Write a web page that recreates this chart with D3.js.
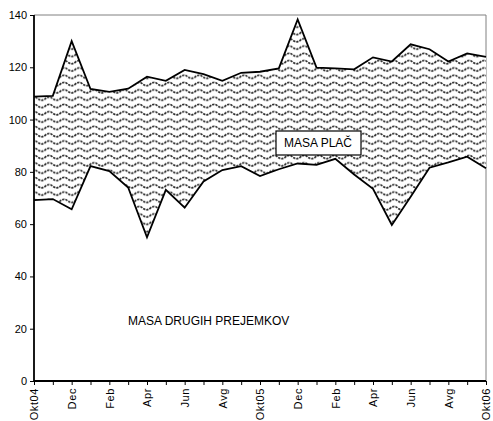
<!DOCTYPE html>
<html>
<head>
<meta charset="utf-8">
<script src="https://cdn.jsdelivr.net/npm/d3@7"></script>
<style>
  body { margin: 0; background: #fff; }
  text { font-family: "Liberation Sans", Arial, sans-serif; }
</style>
</head>
<body>
<div id="chart"></div>
<script>
// months Okt04 .. Okt06
var months = ["Okt04", "Nov04", "Dec04", "Jan05", "Feb05", "Mar05", "Apr05", "Maj05", "Jun05",
    "Jul05", "Avg05", "Sep05", "Okt05", "Nov05", "Dec05", "Jan06", "Feb06", "Mar06", "Apr06",
    "Maj06", "Jun06", "Jul06", "Avg06", "Sep06", "Okt06"];
var tickLabels = ["Okt04", "", "Dec", "", "Feb", "", "Apr", "", "Jun", "", "Avg", "", "Okt05",
    "", "Dec", "", "Feb", "", "Apr", "", "Jun", "", "Avg", "", "Okt06"];

// masa drugih prejemkov (lower line)
var drugi = [69.2, 69.6, 65.7, 82.2, 80.3, 74, 55, 73.1, 66.3, 76.3, 80.7, 82.2, 78.4,
    81, 83.2, 82.7, 85, 79, 73.5, 59.7, 70.5, 81.6, 83.6, 85.8, 81.4];
// skupaj z maso plač (upper line)
var skupaj = [108.8, 109.1, 130, 111.7, 110.6, 111.8, 116.4, 114.8, 119, 117.4, 114.8, 117.9,
    118.3, 119.6, 138.3, 119.9, 119.6, 119.2, 123.8, 122.2, 128.8, 126.9, 122.2, 125.3, 124];

var yTicks = [0, 20, 40, 60, 80, 100, 120, 140];

var width = 493, height = 421;
var mLeft = 34, mRight = 486, mTop = 15, mBottom = 381;

var svg = d3.select("#chart").append("svg")
    .attr("width", width)
    .attr("height", height);

var x = d3.scalePoint()
    .domain(months)
    .range([mLeft, mRight]);

var y = d3.scaleLinear()
    .domain([0, 140])
    .range([mBottom, mTop]);

var data = months.map(function (m, i) {
    return { m: m, lo: drugi[i], hi: skupaj[i] };
});

// wave fill pattern
var pat = svg.append("defs").append("pattern")
    .attr("id", "wave")
    .attr("patternUnits", "userSpaceOnUse")
    .attr("width", 15)
    .attr("height", 7.3);
pat.append("rect").attr("width", 15).attr("height", 7.3).attr("fill", "#fff");
pat.append("path")
    .attr("d", "M-0.5,4.6 Q3.75,0.2 7.5,3.6 T15.5,3.6")
    .attr("fill", "none")
    .attr("stroke", "#2e2e2e")
    .attr("stroke-width", 1.6)
    .attr("stroke-dasharray", "2.4,0.9");

// plot frame (grey top/right)
svg.append("path")
    .attr("d", "M" + mLeft + "," + mTop + "H" + mRight + "V" + mBottom)
    .attr("fill", "none")
    .attr("stroke", "#808080")
    .attr("stroke-width", 1);

var band = d3.area()
    .x(function (d) { return x(d.m); })
    .y0(function (d) { return y(d.lo); })
    .y1(function (d) { return y(d.hi); });

svg.append("path")
    .datum(data)
    .attr("d", band)
    .attr("fill", "url(#wave)");

var line = d3.line()
    .x(function (d) { return x(d[0]); })
    .y(function (d) { return y(d[1]); });

[drugi, skupaj].forEach(function (s) {
    svg.append("path")
        .datum(months.map(function (m, i) { return [m, s[i]]; }))
        .attr("d", line)
        .attr("fill", "none")
        .attr("stroke", "#000")
        .attr("stroke-width", 1.8)
        .attr("stroke-linejoin", "miter");
});

// axes
var yAxis = svg.append("g")
    .attr("transform", "translate(" + mLeft + ",0)")
    .call(d3.axisLeft(y).tickValues(yTicks).tickSize(4).tickPadding(3));
yAxis.select(".domain").attr("stroke", "#000").attr("stroke-width", 1.8)
    .attr("d", "M0," + mTop + "V" + mBottom);
yAxis.selectAll("text").style("font-size", "11px").attr("fill", "#000");

var xAxis = svg.append("g")
    .attr("transform", "translate(0," + mBottom + ")")
    .call(d3.axisBottom(x).tickSize(4).tickFormat(function (d, i) { return tickLabels[i]; }));
xAxis.select(".domain").attr("stroke", "#000").attr("stroke-width", 1.8)
    .attr("d", "M" + mLeft + ",0H" + mRight);
xAxis.selectAll("text")
    .style("font-size", "11px")
    .style("letter-spacing", "0.6px")
    .attr("fill", "#000")
    .attr("text-anchor", "end")
    .attr("transform", "rotate(-90)")
    .attr("x", -7)
    .attr("y", 0)
    .attr("dy", "0.35em");

// labels
var lab = svg.append("g").attr("transform", "translate(318,143)");
lab.append("rect")
    .attr("x", -42).attr("y", -12)
    .attr("width", 85).attr("height", 24)
    .attr("fill", "#fff")
    .attr("stroke", "#000")
    .attr("stroke-width", 1.2);
lab.append("text")
    .attr("text-anchor", "middle")
    .attr("dy", "0.36em")
    .style("font-size", "12px")
    .text("MASA PLAČ");

svg.append("text")
    .attr("x", 128)
    .attr("y", 321)
    .attr("dy", "0.36em")
    .style("font-size", "12px")
    .text("MASA DRUGIH PREJEMKOV");
</script>
</body>
</html>
